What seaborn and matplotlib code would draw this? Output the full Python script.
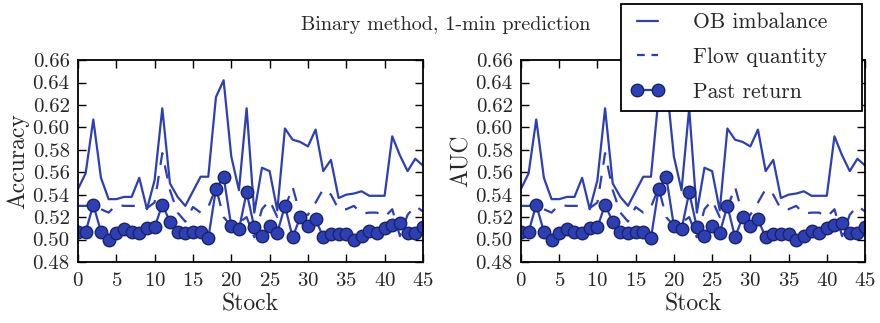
import numpy as np
import pandas as pd
import matplotlib
matplotlib.use("Agg")
import matplotlib.pyplot as plt
from matplotlib.lines import Line2D
import seaborn as sns

# values (stock 0..45)
stock = list(range(46))

ob_imbalance = [0.545, 0.559, 0.607, 0.555, 0.536, 0.536, 0.538, 0.538, 0.555, 0.527,
                0.553, 0.617, 0.550, 0.538, 0.530, 0.543, 0.556, 0.556, 0.627, 0.642,
                0.574, 0.544, 0.617, 0.524, 0.564, 0.561, 0.526, 0.599, 0.589, 0.587,
                0.583, 0.598, 0.561, 0.571, 0.537, 0.540, 0.541, 0.543, 0.539, 0.539,
                0.539, 0.592, 0.575, 0.561, 0.572, 0.566]

flow_quantity = [0.530, 0.530, 0.531, 0.527, 0.524, 0.531, 0.530, 0.530, 0.530, 0.528,
                 0.533, 0.577, 0.544, 0.524, 0.516, 0.529, 0.524, 0.529, 0.546, 0.520,
                 0.512, 0.515, 0.520, 0.502, 0.527, 0.535, 0.520, 0.528, 0.547, 0.522,
                 0.522, 0.533, 0.545, 0.540, 0.527, 0.527, 0.530, 0.523, 0.524, 0.524,
                 0.520, 0.527, 0.503, 0.522, 0.530, 0.525]

past_return = [0.507, 0.507, 0.531, 0.507, 0.500, 0.506, 0.509, 0.507, 0.506, 0.510,
               0.511, 0.531, 0.516, 0.507, 0.506, 0.507, 0.507, 0.501, 0.545, 0.556,
               0.512, 0.509, 0.542, 0.511, 0.503, 0.512, 0.506, 0.530, 0.502, 0.520,
               0.512, 0.518, 0.502, 0.505, 0.505, 0.505, 0.500, 0.503, 0.508, 0.506,
               0.510, 0.513, 0.515, 0.506, 0.506, 0.511]

series_labels = ["OB imbalance", "Flow quantity", "Past return"]
panels = ["Accuracy", "AUC"]
title = "Binary method, 1-min prediction"

sns.set_style("ticks")
plt.rcParams["font.family"] = ["cmr10", "DejaVu Serif"]
plt.rcParams["axes.formatter.use_mathtext"] = True
plt.rcParams["xtick.direction"] = "in"
plt.rcParams["ytick.direction"] = "in"
plt.rcParams["xtick.top"] = True
plt.rcParams["ytick.right"] = True

blue = "#2d3fb4"
edge = "#1a2366"
dash = (0, (6, 5))

df = pd.DataFrame({"stock": stock, "ob": ob_imbalance,
                   "flow": flow_quantity, "ret": past_return})

fig = plt.figure(figsize=(8.8, 3.23), dpi=100)
ax1 = fig.add_axes([0.0886, 0.189, 0.392, 0.625])
ax2 = fig.add_axes([0.592, 0.189, 0.391, 0.625])

for ax, lab in zip([ax1, ax2], panels):
    sns.lineplot(data=df, x="stock", y="ob", ax=ax, color=blue, lw=1.6, legend=False)
    sns.lineplot(data=df, x="stock", y="flow", ax=ax, color=blue, lw=1.6,
                 linestyle=dash, legend=False)
    sns.lineplot(data=df, x="stock", y="ret", ax=ax, color=blue, lw=1.6,
                 marker="o", markersize=9, markerfacecolor=blue,
                 markeredgecolor=edge, markeredgewidth=1.0, legend=False)
    ax.set_xlim(0, 45)
    ax.set_ylim(0.48, 0.66)
    ax.set_xticks(np.arange(0, 46, 5))
    ax.set_yticks(np.arange(0.48, 0.661, 0.02))
    ax.set_yticklabels(["%.2f" % v for v in np.arange(0.48, 0.661, 0.02)])
    ax.tick_params(labelsize=15, length=6, width=1, color="black")
    ax.tick_params(axis="x", pad=7)
    ax.tick_params(axis="y", pad=6)
    ax.set_xlabel("Stock", fontsize=17, labelpad=3)
    ax.set_ylabel(lab, fontsize=17, labelpad=2)
    for s in ax.spines.values():
        s.set_color("black")
        s.set_linewidth(1.3)

fig.text(0.506, 0.922, title, ha="center", va="center", fontsize=14.5)

# legend handles styled like the plotted lines
handles = [
    Line2D([], [], color=blue, lw=1.6),
    Line2D([], [], color=blue, lw=1.6, linestyle=(0, (3.5, 3.0))),
    Line2D([], [], color=blue, lw=1.6, marker="o", markersize=9,
           markerfacecolor=blue, markeredgecolor=edge, markeredgewidth=1.0),
]
leg = fig.legend(handles, series_labels, loc="upper left",
                 bbox_to_anchor=(0.706, 0.5, 0.274, 0.488), mode="expand",
                 borderaxespad=0, fontsize=15.5, frameon=True, fancybox=False,
                 handlelength=1.6, numpoints=2, borderpad=0.42, labelspacing=0.7,
                 handletextpad=1.3)
leg.get_frame().set_edgecolor("black")
leg.get_frame().set_linewidth(1.3)
leg.get_frame().set_alpha(1)

fig.savefig("out.png", dpi=100)
